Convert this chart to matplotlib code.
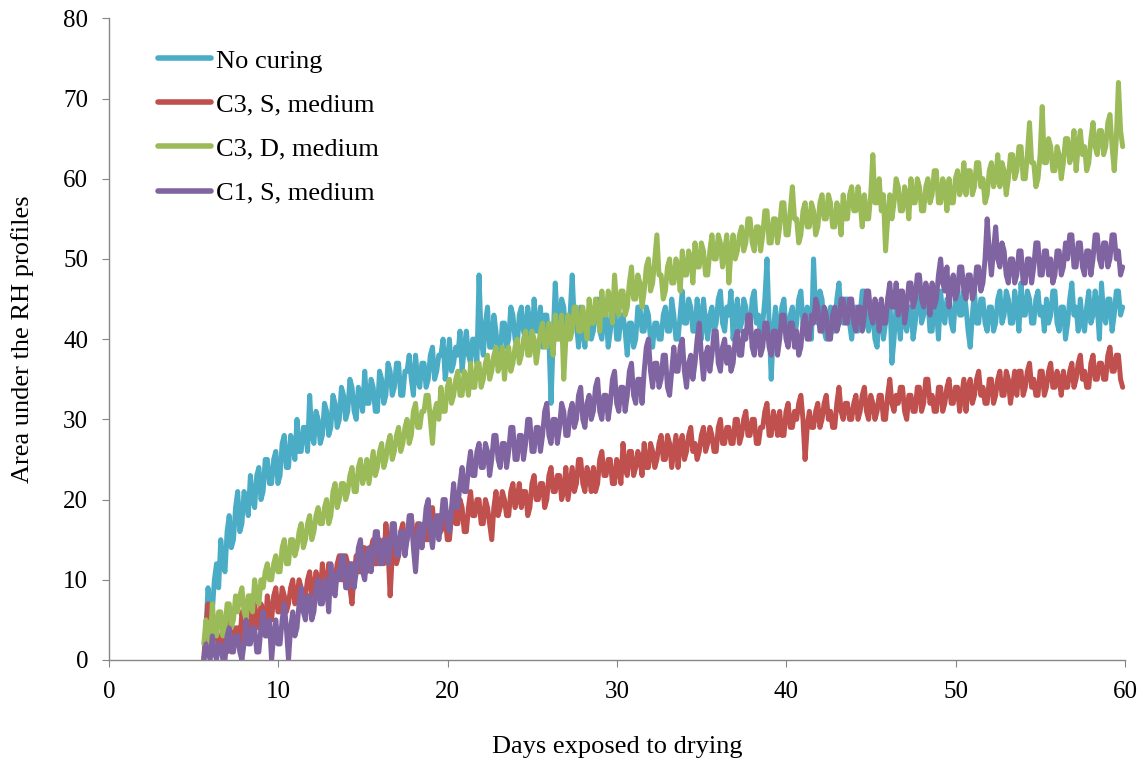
import numpy as np
import matplotlib.pyplot as plt

# RH-profile area per condition, sampled every 3 hours from day 5.6
start_day = 5.6
step = 0.125

no_curing = [
    0, 4, 9, 5, 6, 10, 12, 9,
    15, 12, 11, 16, 18, 14, 15, 19,
    21, 16, 17, 21, 20, 18, 23, 20,
    19, 23, 24, 20, 21, 25, 25, 22,
    22, 25, 26, 22, 23, 27, 28, 24,
    24, 28, 27, 25, 30, 26, 26, 29,
    29, 26, 33, 28, 27, 31, 30, 27,
    28, 32, 31, 28, 29, 33, 32, 29,
    30, 34, 33, 30, 31, 35, 34, 31,
    30, 34, 33, 31, 36, 32, 32, 35,
    34, 31, 31, 36, 35, 32, 33, 37,
    36, 33, 34, 37, 37, 33, 33, 36,
    36, 38, 35, 33, 38, 35, 34, 37,
    37, 34, 35, 38, 39, 35, 36, 38,
    38, 40, 35, 37, 40, 36, 37, 39,
    38, 41, 36, 39, 41, 38, 37, 40,
    40, 37, 48, 40, 38, 42, 44, 39,
    39, 43, 41, 38, 38, 42, 42, 39,
    40, 44, 43, 40, 39, 43, 44, 41,
    40, 44, 42, 39, 45, 41, 41, 44,
    39, 43, 43, 40, 32, 40, 47, 42,
    41, 45, 44, 40, 40, 43, 48, 42,
    42, 39, 44, 41, 39, 43, 43, 40,
    41, 44, 45, 41, 40, 44, 43, 39,
    41, 44, 44, 40, 40, 43, 43, 41,
    38, 42, 42, 39, 40, 44, 44, 41,
    41, 44, 43, 40, 39, 42, 42, 40,
    40, 43, 44, 41, 41, 45, 43, 40,
    40, 43, 46, 42, 42, 45, 44, 41,
    41, 45, 43, 40, 45, 42, 40, 43,
    44, 41, 42, 45, 46, 42, 41, 44,
    43, 46, 40, 43, 45, 41, 42, 45,
    44, 41, 41, 45, 46, 42, 43, 40,
    42, 45, 50, 42, 35, 41, 44, 41,
    41, 44, 45, 41, 40, 43, 44, 40,
    42, 45, 46, 42, 41, 44, 43, 40,
    50, 43, 42, 46, 45, 41, 40, 43,
    44, 41, 41, 45, 47, 43, 42, 45,
    45, 42, 40, 43, 44, 41, 43, 46,
    46, 42, 41, 44, 43, 40, 39, 43,
    44, 40, 42, 45, 46, 37, 40, 44,
    43, 40, 45, 42, 41, 44, 44, 40,
    42, 45, 46, 42, 43, 46, 45, 41,
    41, 45, 44, 40, 46, 43, 42, 45,
    45, 42, 41, 45, 47, 43, 43, 46,
    44, 41, 39, 43, 46, 42, 42, 45,
    45, 42, 41, 44, 44, 41, 42, 45,
    46, 42, 43, 46, 45, 42, 42, 46,
    44, 41, 47, 43, 43, 46, 45, 42,
    42, 45, 46, 43, 44, 41, 45, 42,
    43, 46, 46, 42, 41, 44, 44, 40,
    42, 45, 47, 43, 44, 41, 45, 42,
    41, 44, 46, 42, 43, 46, 44, 40,
    47, 43, 42, 45, 45, 41, 43, 46,
    46, 43, 44,
]

c3_s_medium = [
    0, 4, 7, 3, 2, 5, 4, 1,
    1, 4, 3, 1, 5, 3, 2, 4,
    4, 2, 6, 4, 3, 6, 5, 3,
    7, 5, 4, 7, 6, 4, 8, 6,
    5, 8, 9, 6, 6, 9, 8, 6,
    7, 9, 10, 7, 8, 10, 9, 7,
    8, 10, 11, 8, 9, 11, 10, 8,
    12, 9, 9, 12, 11, 9, 10, 12,
    13, 10, 10, 13, 12, 9, 7, 11,
    13, 11, 11, 14, 14, 11, 12, 14,
    15, 12, 12, 15, 14, 12, 17, 14,
    8, 13, 15, 12, 13, 16, 17, 14,
    15, 17, 18, 15, 14, 17, 16, 14,
    17, 15, 15, 18, 19, 16, 16, 18,
    16, 18, 18, 15, 15, 18, 20, 17,
    17, 20, 19, 16, 16, 19, 21, 18,
    18, 20, 20, 17, 17, 20, 19, 17,
    15, 19, 21, 18, 19, 21, 20, 18,
    18, 21, 22, 19, 20, 22, 19, 21,
    21, 18, 19, 22, 23, 20, 20, 22,
    22, 19, 20, 23, 24, 21, 21, 23,
    23, 20, 21, 24, 20, 22, 24, 21,
    22, 25, 25, 22, 21, 24, 23, 21,
    24, 21, 22, 25, 26, 23, 23, 25,
    25, 22, 22, 25, 24, 22, 27, 24,
    23, 26, 26, 23, 24, 26, 25, 23,
    27, 24, 24, 27, 26, 24, 25, 27,
    28, 25, 25, 28, 27, 24, 26, 28,
    24, 27, 28, 25, 26, 28, 29, 26,
    27, 25, 26, 28, 29, 26, 27, 29,
    28, 26, 26, 29, 30, 27, 27, 29,
    29, 27, 27, 30, 30, 27, 28, 30,
    31, 28, 28, 30, 30, 27, 27, 29,
    29, 31, 32, 28, 28, 31, 30, 28,
    31, 28, 28, 31, 32, 29, 29, 31,
    30, 32, 33, 30, 25, 29, 31, 29,
    29, 31, 32, 29, 30, 32, 33, 30,
    31, 29, 29, 32, 34, 31, 30, 32,
    32, 30, 30, 32, 33, 30, 31, 33,
    34, 31, 30, 33, 32, 30, 31, 33,
    33, 30, 30, 33, 35, 32, 31, 33,
    32, 34, 34, 31, 30, 33, 33, 31,
    31, 34, 34, 31, 32, 35, 35, 32,
    33, 31, 31, 34, 34, 31, 32, 34,
    35, 32, 32, 34, 34, 31, 33, 35,
    31, 34, 35, 32, 33, 35, 36, 33,
    34, 32, 32, 35, 35, 32, 33, 35,
    36, 33, 33, 36, 35, 32, 34, 36,
    33, 36, 36, 33, 34, 36, 37, 34,
    35, 33, 33, 36, 36, 33, 34, 36,
    37, 34, 34, 36, 35, 33, 36, 34,
    34, 36, 37, 34, 35, 37, 38, 35,
    36, 34, 34, 37, 38, 35, 35, 37,
    37, 35, 35, 38, 39, 36, 36, 38,
    38, 35, 34,
]

c3_d_medium = [
    2, 5, 4, 2, 7, 4, 3, 6,
    6, 3, 4, 7, 7, 4, 5, 8,
    6, 8, 9, 6, 5, 8, 8, 6,
    10, 8, 7, 10, 9, 11, 12, 10,
    10, 12, 13, 11, 11, 14, 15, 12,
    12, 15, 15, 13, 14, 16, 17, 14,
    15, 17, 18, 15, 16, 18, 19, 17,
    17, 19, 20, 17, 18, 21, 22, 19,
    20, 22, 22, 20, 21, 23, 24, 21,
    21, 24, 25, 22, 23, 25, 22, 24,
    26, 23, 24, 26, 27, 24, 25, 27,
    28, 25, 26, 28, 29, 26, 27, 29,
    30, 27, 28, 31, 32, 29, 29, 31,
    31, 33, 33, 30, 27, 31, 32, 30,
    34, 31, 31, 34, 35, 32, 33, 35,
    36, 33, 33, 36, 35, 33, 37, 34,
    34, 37, 37, 34, 35, 37, 38, 35,
    36, 38, 39, 36, 37, 39, 35, 38,
    39, 36, 37, 39, 40, 37, 38, 40,
    41, 38, 38, 41, 40, 37, 39, 41,
    42, 39, 39, 42, 41, 38, 43, 40,
    40, 43, 35, 40, 43, 40, 41, 44,
    44, 41, 41, 44, 42, 40, 45, 42,
    42, 45, 44, 41, 46, 43, 43, 46,
    45, 42, 48, 44, 43, 46, 46, 43,
    44, 47, 49, 45, 45, 48, 47, 44,
    46, 49, 50, 46, 47, 50, 53, 48,
    48, 45, 46, 49, 50, 47, 47, 50,
    49, 46, 51, 48, 48, 51, 50, 47,
    52, 49, 49, 52, 51, 48, 48, 51,
    53, 50, 50, 53, 52, 49, 51, 53,
    47, 51, 53, 50, 51, 53, 54, 51,
    52, 55, 55, 52, 51, 54, 54, 51,
    53, 56, 56, 52, 52, 55, 55, 52,
    54, 57, 57, 53, 53, 56, 59, 55,
    55, 52, 53, 56, 57, 54, 54, 57,
    56, 53, 54, 57, 58, 55, 55, 58,
    57, 54, 54, 57, 56, 53, 58, 55,
    55, 58, 59, 56, 56, 59, 57, 54,
    58, 55, 55, 58, 63, 57, 57, 60,
    56, 58, 51, 55, 58, 55, 57, 60,
    59, 56, 56, 59, 58, 55, 60, 57,
    57, 60, 59, 56, 56, 59, 60, 57,
    58, 61, 61, 57, 57, 60, 59, 56,
    60, 57, 57, 60, 61, 58, 59, 62,
    58, 61, 61, 58, 59, 62, 62, 59,
    60, 57, 58, 61, 62, 59, 60, 63,
    59, 62, 61, 58, 60, 63, 63, 60,
    61, 64, 64, 60, 60, 63, 67, 62,
    62, 59, 60, 63, 69, 62, 62, 65,
    64, 61, 61, 64, 63, 60, 62, 65,
    65, 62, 63, 66, 61, 64, 66, 63,
    64, 61, 62, 65, 67, 64, 63, 66,
    66, 63, 64, 67, 68, 64, 61, 65,
    72, 66, 64,
]

c1_s_medium = [
    0, 2, 1, 0, 3, 1, 0, 2,
    2, 0, 0, 3, 4, 1, 1, 3,
    3, 1, 0, 2, 5, 2, 2, 4,
    4, 1, 1, 4, 6, 3, 3, 5,
    0, 3, 5, 2, 2, 5, 7, 4,
    0, 4, 6, 3, 4, 7, 9, 6,
    5, 8, 8, 5, 6, 9, 10, 7,
    7, 10, 9, 6, 12, 9, 8, 11,
    10, 13, 13, 9, 9, 12, 12, 9,
    11, 14, 15, 11, 10, 13, 14, 11,
    13, 16, 16, 12, 12, 15, 15, 12,
    14, 17, 17, 13, 13, 16, 16, 13,
    15, 18, 18, 14, 11, 15, 17, 14,
    16, 19, 20, 16, 14, 17, 18, 15,
    17, 20, 20, 17, 16, 19, 22, 19,
    19, 22, 24, 21, 21, 24, 26, 23,
    23, 26, 27, 24, 24, 27, 26, 23,
    25, 28, 28, 25, 24, 27, 27, 24,
    26, 29, 29, 25, 25, 28, 28, 25,
    27, 30, 30, 26, 26, 29, 29, 26,
    28, 31, 32, 28, 27, 30, 30, 27,
    29, 32, 31, 28, 28, 31, 32, 29,
    30, 33, 34, 30, 29, 32, 33, 30,
    31, 34, 35, 31, 30, 33, 33, 30,
    32, 35, 36, 32, 31, 34, 34, 31,
    33, 36, 37, 33, 32, 35, 35, 32,
    36, 39, 40, 36, 34, 37, 37, 34,
    35, 38, 38, 34, 33, 36, 39, 36,
    36, 39, 40, 36, 34, 37, 38, 35,
    37, 40, 42, 38, 35, 38, 39, 36,
    38, 41, 41, 37, 36, 39, 40, 37,
    39, 36, 37, 40, 41, 38, 38, 41,
    40, 43, 43, 39, 38, 41, 41, 38,
    39, 42, 42, 39, 38, 41, 41, 38,
    40, 43, 43, 40, 39, 42, 42, 39,
    41, 38, 39, 42, 43, 40, 40, 43,
    42, 45, 44, 41, 41, 44, 43, 40,
    40, 43, 44, 41, 42, 45, 45, 42,
    42, 45, 45, 42, 41, 44, 44, 41,
    43, 46, 46, 43, 42, 45, 44, 41,
    45, 42, 42, 45, 47, 44, 44, 47,
    43, 46, 46, 42, 44, 47, 47, 44,
    45, 48, 48, 45, 44, 47, 46, 43,
    47, 44, 45, 48, 50, 47, 46, 49,
    44, 47, 48, 45, 46, 49, 49, 46,
    45, 48, 48, 45, 46, 49, 49, 46,
    47, 50, 55, 51, 48, 51, 54, 50,
    49, 52, 51, 48, 47, 50, 50, 47,
    48, 51, 51, 47, 47, 50, 50, 47,
    49, 52, 52, 48, 48, 51, 51, 48,
    50, 47, 48, 51, 51, 48, 49, 52,
    50, 53, 53, 49, 49, 52, 52, 49,
    48, 51, 51, 48, 50, 53, 53, 50,
    49, 52, 52, 49, 50, 53, 53, 50,
    51, 48, 49,
]

labels = ['No curing', 'C3, S, medium', 'C3, D, medium', 'C1, S, medium']
colors = ['#4BACC6', '#C0504D', '#9BBB59', '#8064A2']
series = [no_curing, c3_s_medium, c3_d_medium, c1_s_medium]

plt.rcParams.update({
    'font.family': ['Liberation Serif', 'DejaVu Serif'],
    'font.size': 18,
})

fig = plt.figure(figsize=(11.47, 7.63), dpi=100)
ax = fig.add_axes([0.095, 0.135, 0.886, 0.841])

for vals, lab, col in zip(series, labels, colors):
    days = start_day + step * np.arange(len(vals))
    ax.plot(days, vals, color=col, lw=3.6, label=lab,
            solid_joinstyle='round', solid_capstyle='round')

ax.set_xlim(0, 60)
ax.set_ylim(0, 80)
ax.set_xticks(range(0, 61, 10))
ax.set_yticks(range(0, 81, 10))

for side in ['top', 'right']:
    ax.spines[side].set_visible(False)
for side in ['left', 'bottom']:
    ax.spines[side].set_color('#868686')
    ax.spines[side].set_linewidth(1.0)
ax.tick_params(direction='out', length=5, color='#868686', labelsize=18)
ax.tick_params(axis='y', pad=10)
ax.tick_params(axis='x', pad=10)

ax.set_xlabel('Days exposed to drying', fontsize=19, labelpad=24)
ax.set_ylabel('Area under the RH profiles', fontsize=19, labelpad=21)

leg = ax.legend(loc='upper left', bbox_to_anchor=(0.048, 0.952), frameon=False,
                fontsize=19, handlelength=2.0, handletextpad=0.2,
                labelspacing=0.78, borderpad=0, borderaxespad=0)
for line in leg.get_lines():
    line.set_linewidth(4)
    line.set_solid_capstyle('round')

fig.savefig('out.png', dpi=100)
